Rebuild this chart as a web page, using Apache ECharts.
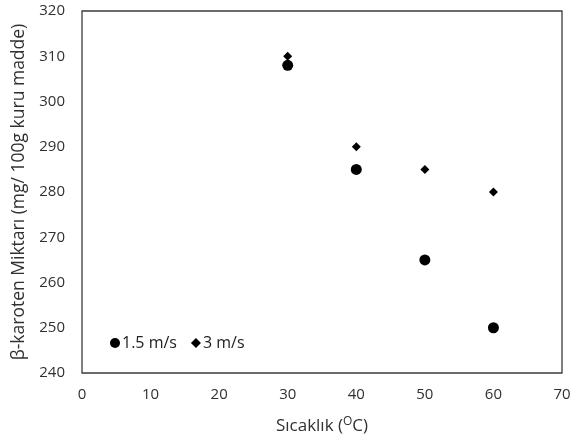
<!DOCTYPE html>
<html>
<head>
<meta charset="utf-8">
<script src="https://cdn.jsdelivr.net/npm/echarts@6/dist/echarts.min.js"></script>
<style>
  html, body { margin: 0; padding: 0; background: #fff; }
  #chart { width: 579px; height: 443px; }
</style>
</head>
<body>
<div id="chart"></div>
<script>
// Drying temperature (°C) and beta-carotene content per air velocity
const temperatures = [30, 40, 50, 60];
const carotene15 = [308, 285, 265, 250];   // 1.5 m/s
const carotene3 = [310, 290, 285, 280];    // 3 m/s
const seriesNames = ['1.5 m/s', '3 m/s'];

const font = 'Open Sans, Liberation Sans, sans-serif';
const textColor = '#303030';

const chart = echarts.init(document.getElementById('chart'));
chart.setOption({
  animation: false,
  backgroundColor: '#ffffff',
  textStyle: { fontFamily: font },
  grid: { left: 82, top: 11, right: 17, bottom: 70, show: true, borderColor: '#3a3a3a', borderWidth: 1.3 },
  legend: {
    left: 105, top: 330,
    itemGap: 14, itemWidth: 10, itemHeight: 10,
    textStyle: { fontSize: 16, color: '#222', fontFamily: font, padding: [0, 0, 0, -3] },
    data: [
      { name: seriesNames[0], icon: 'circle' },
      { name: seriesNames[1], icon: 'diamond' }
    ]
  },
  xAxis: {
    type: 'value', min: 0, max: 70, interval: 10,
    axisLine: { show: false }, axisTick: { show: false }, splitLine: { show: false },
    axisLabel: { fontSize: 15, color: textColor, margin: 14, fontFamily: font },
    name: '{n|Sıcaklık (}{s|O}{n|C)}',
    nameLocation: 'middle', nameGap: 43,
    nameTextStyle: {
      rich: {
        n: { fontSize: 17, color: textColor, fontFamily: font },
        s: { fontSize: 12, color: textColor, fontFamily: font, verticalAlign: 'top', padding: [0, 0, 8, 0] }
      }
    }
  },
  yAxis: {
    type: 'value', min: 240, max: 320, interval: 10,
    axisLine: { show: false }, axisTick: { show: false }, splitLine: { show: false },
    axisLabel: { fontSize: 15, color: textColor, margin: 17, fontFamily: font },
    name: 'β-karoten Miktarı (mg/ 100g kuru madde)',
    nameLocation: 'middle', nameGap: 51,
    nameTextStyle: { fontSize: 17.5, color: textColor, fontFamily: font }
  },
  series: [
    {
      name: seriesNames[0], type: 'scatter', symbol: 'circle', symbolSize: 11,
      itemStyle: { color: '#000', opacity: 1 },
      data: temperatures.map((t, i) => [t, carotene15[i]])
    },
    {
      name: seriesNames[1], type: 'scatter', symbol: 'diamond', symbolSize: 9,
      itemStyle: { color: '#000', opacity: 1 },
      data: temperatures.map((t, i) => [t, carotene3[i]])
    }
  ]
});
</script>
</body>
</html>
